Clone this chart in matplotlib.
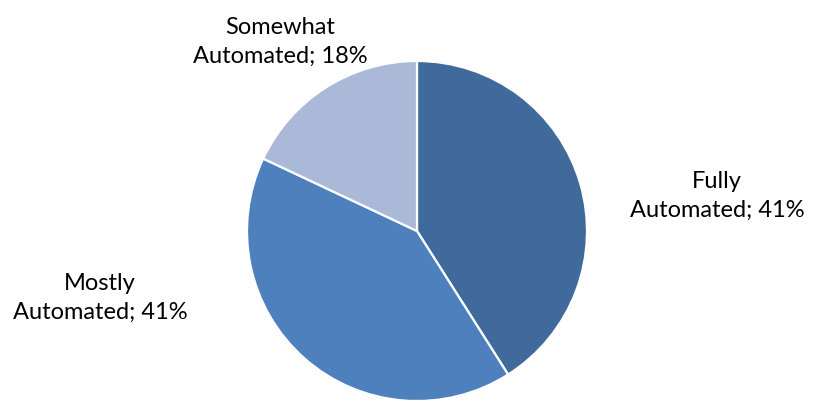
import matplotlib.pyplot as plt

# slice data (clockwise from 12 o'clock)
categories = ["Fully\nAutomated", "Mostly\nAutomated", "Somewhat\nAutomated"]
shares = [41, 41, 18]
colors = ["#3F6A9B", "#4E80BD", "#AAB9D8"]

W, H = 813, 403
fig = plt.figure(figsize=(W / 100, H / 100), dpi=100)
ax = fig.add_axes([0, 0, 1, 1])

ax.pie(shares, colors=colors, startangle=90, counterclock=False,
       center=(417, H - 231), radius=170, frame=True,
       wedgeprops=dict(edgecolor="white", linewidth=1.6))

# pie() resets the limits, so fix them afterwards (pixel coordinates)
ax.set_xlim(0, W)
ax.set_ylim(0, H)
ax.set_aspect("equal")
ax.axis("off")

# label positions in pixels (x, y from top)
label_pos = [(717, 196), (100, 298), (280, 42)]
for name, val, (x, y) in zip(categories, shares, label_pos):
    ax.text(x, H - y, f"{name}; {val}%", ha="center", va="center",
            fontsize=17, family="Lato", linespacing=1.45, color="black")

plt.savefig("out.png", dpi=100)
